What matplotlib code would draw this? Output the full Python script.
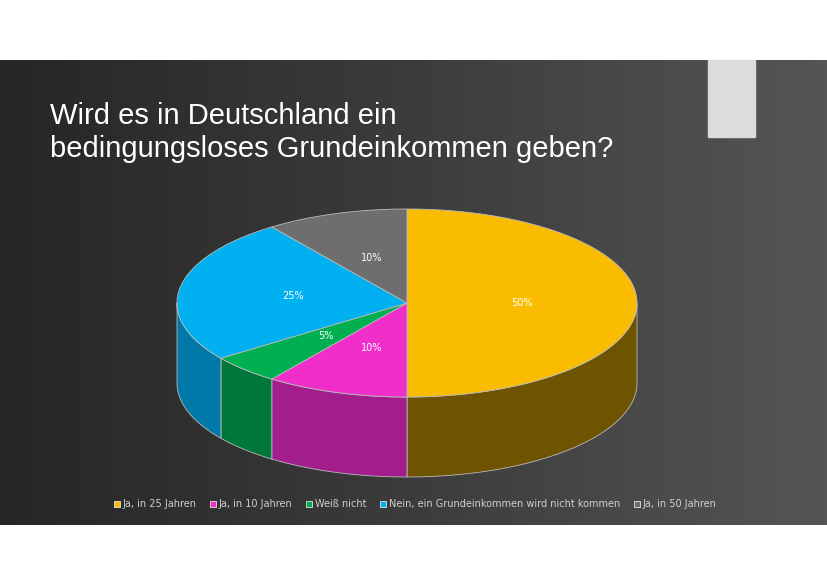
import numpy as np
import matplotlib
matplotlib.use("Agg")
import matplotlib.pyplot as plt
from matplotlib.patches import Polygon, Rectangle
from matplotlib.lines import Line2D

title = "Wird es in Deutschland ein\nbedingungsloses Grundeinkommen geben?"
categories = ["Ja, in 25 Jahren", "Ja, in 10 Jahren", "Weiß nicht",
              "Nein, ein Grundeinkommen wird nicht kommen", "Ja, in 50 Jahren"]
values = [50, 10, 5, 25, 10]
labels = ["50%", "10%", "5%", "25%", "10%"]
top_colors = ["#F9BC00", "#F02FCA", "#00B050", "#00B0F0", "#6E6E6E"]
side_colors = ["#6E5300", "#A21E8C", "#00773A", "#0079A8", "#4A4A4A"]

fig = plt.figure(figsize=(8.28, 5.86), dpi=100)
ax = fig.add_axes([0, 0, 1, 1])
ax.set_xlim(0, 828)
ax.set_ylim(586, 0)
ax.axis("off")
fig.patch.set_facecolor("white")

# slide background gradient
grad = np.linspace(0, 1, 256)[None, :]
ax.imshow(grad, extent=(0, 828, 525, 60), cmap=matplotlib.colors.LinearSegmentedColormap.from_list(
    "bg", ["#262626", "#3c3c3c", "#555555"]), aspect="auto", zorder=0)
ax.add_patch(Rectangle((708, 60), 47, 77, color="#DCDCDC", zorder=1))
ax.text(50, 163, title, color="white", fontsize=21, family="Liberation Sans",
        va="bottom", ha="left", linespacing=1.25, zorder=2)

cx, cy, rx, ry, depth = 407, 303, 230, 94, 80


def pt(a, r=1.0):
    # a in degrees, clockwise from top
    t = np.radians(a)
    return cx + r * rx * np.sin(t), cy - r * ry * np.cos(t)


bounds = np.concatenate([[0], np.cumsum(values)]) / sum(values) * 360
# side faces (front half: 90..270)
for i in range(len(values)):
    a0, a1 = max(bounds[i], 90), min(bounds[i + 1], 270)
    if a1 <= a0:
        continue
    ang = np.linspace(a0, a1, 60)
    xs, ys = pt(ang)
    poly = list(zip(xs, ys)) + list(zip(xs[::-1], ys[::-1] + depth))
    ax.add_patch(Polygon(poly, closed=True, fc=side_colors[i], ec="#BBBBBB", lw=0.6, zorder=3))
# top faces
for i in range(len(values)):
    ang = np.linspace(bounds[i], bounds[i + 1], 100)
    xs, ys = pt(ang)
    poly = [(cx, cy)] + list(zip(xs, ys))
    ax.add_patch(Polygon(poly, closed=True, fc=top_colors[i], ec="#BBBBBB", lw=0.6, zorder=4))
    mx, my = pt((bounds[i] + bounds[i + 1]) / 2, 0.5)
    ax.text(mx, my, labels[i], color="white", fontsize=7, ha="center", va="center", zorder=5)

handles = [Line2D([], [], marker="s", ls="", markersize=5, markerfacecolor=c,
                  markeredgecolor="white", markeredgewidth=0.5) for c in top_colors]
fig.legend(handles, categories, loc="center", bbox_to_anchor=(0.5, 1 - 504 / 586), ncol=5,
           frameon=False, fontsize=7, labelcolor="#D0D0D0", handletextpad=0.1,
           columnspacing=1.2, handlelength=1.0)

fig.savefig("out.png", dpi=100, facecolor="white")
